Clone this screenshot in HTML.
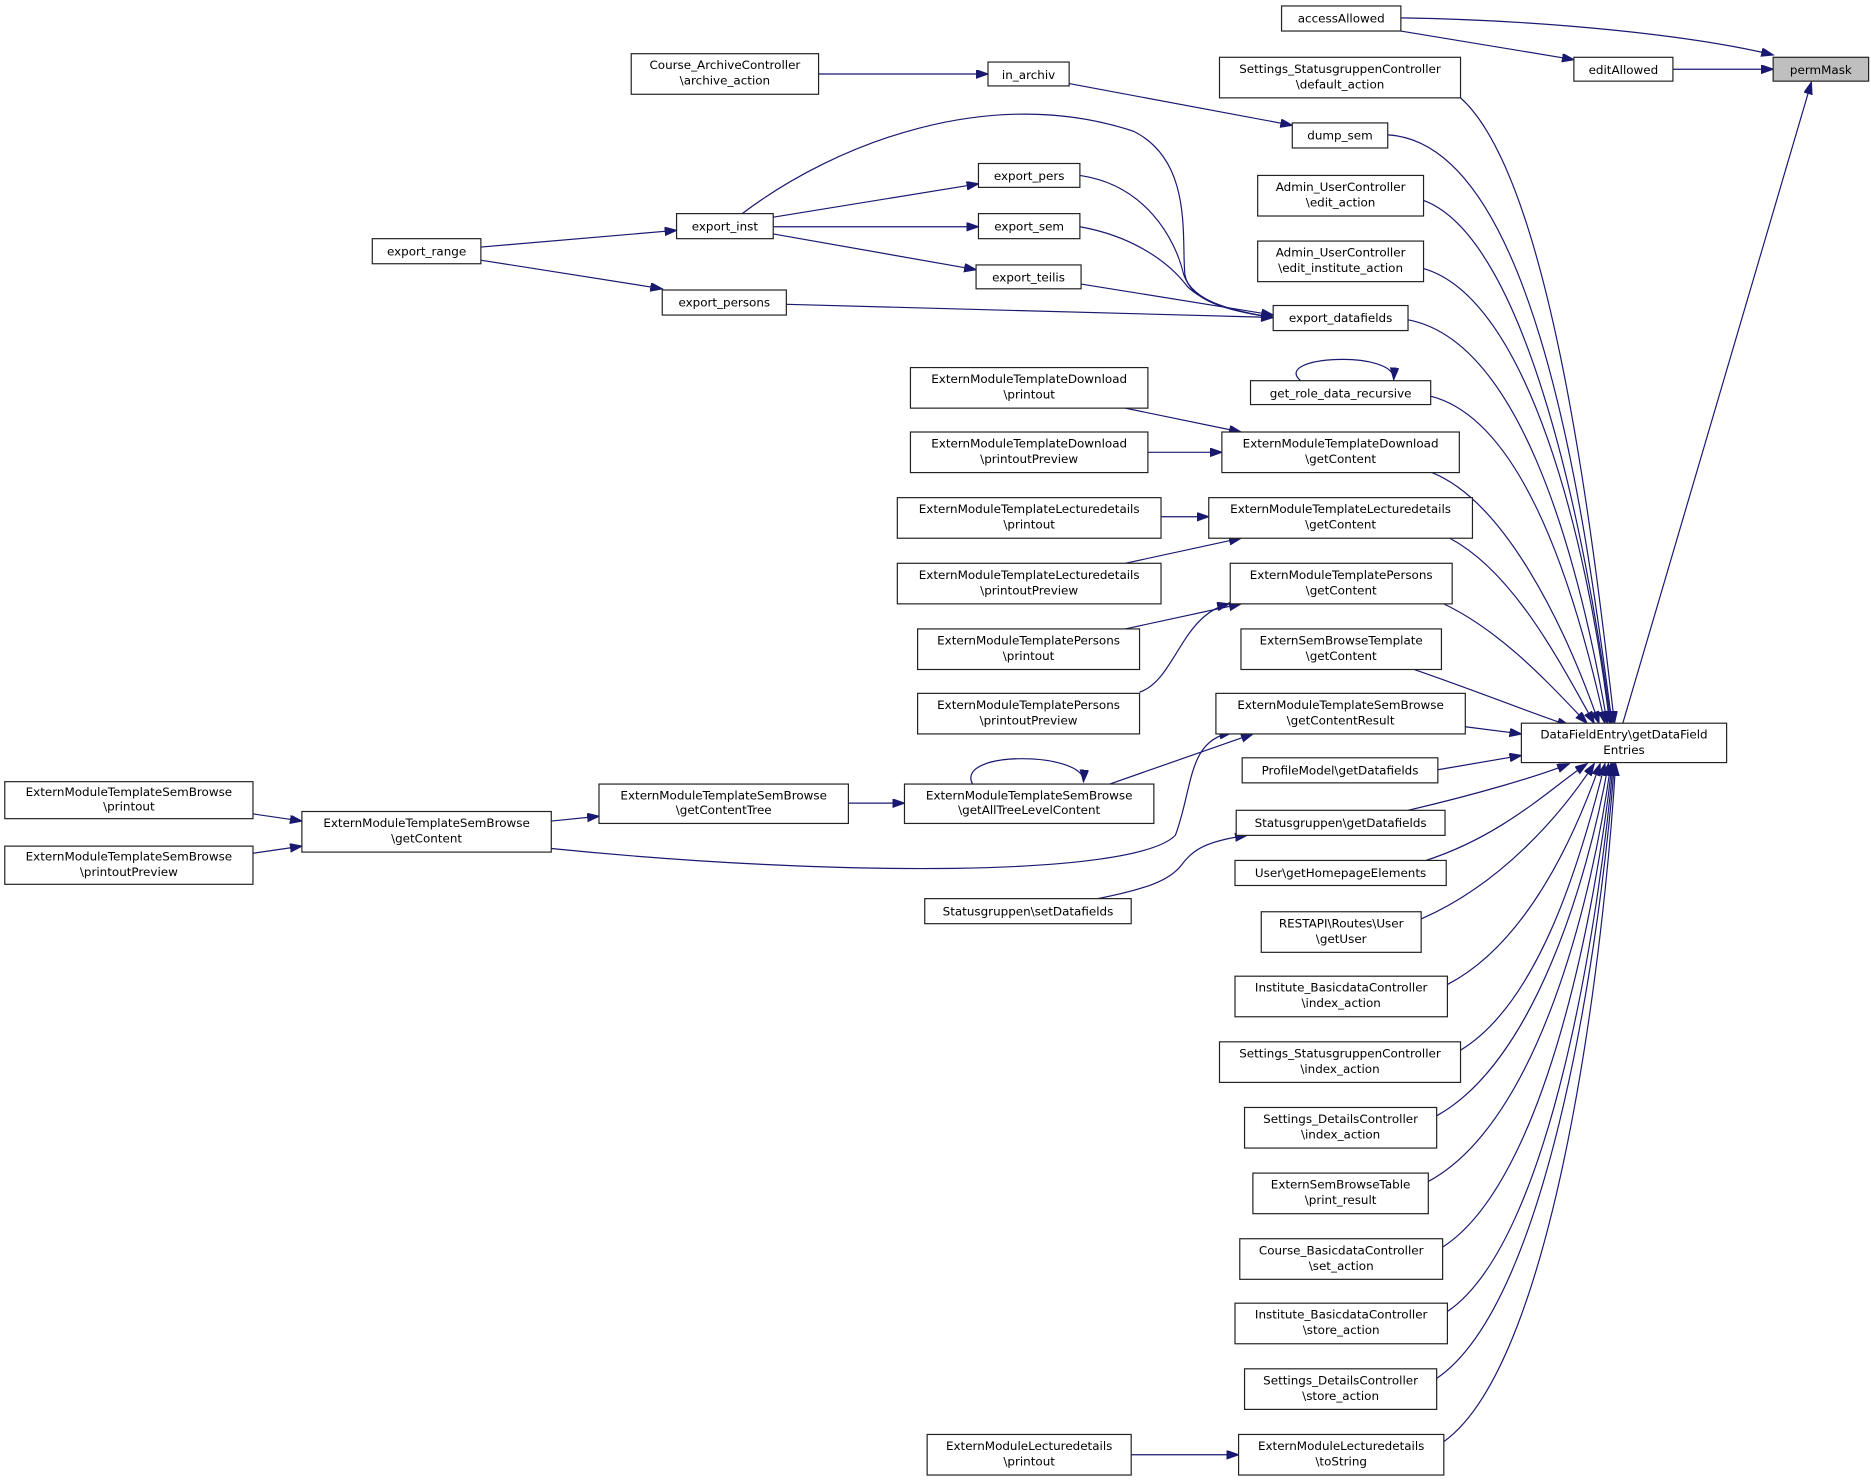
<!DOCTYPE html>
<html><head><meta charset="utf-8"><style>
html,body{margin:0;padding:0;background:#fff;}
svg{display:block;}
text{font-family:"DejaVu Sans","Liberation Sans",sans-serif;font-size:10px;fill:#000;text-anchor:middle;}
rect{fill:#fff;stroke:#222;stroke-width:1;}
path.e{fill:none;stroke:#191970;stroke-width:1;marker-end:url(#a);}
</style></head><body>
<svg width="1871" height="1481" viewBox="0 0 1568 1241" preserveAspectRatio="none" xmlns="http://www.w3.org/2000/svg">
<defs><marker id="a" markerUnits="userSpaceOnUse" markerWidth="11" markerHeight="8" refX="10" refY="3.5" orient="auto"><path d="M0,0 L10,3.5 L0,7 z" fill="#191970" stroke="#191970"/></marker></defs>

<!-- edges -->
<path class="e" d="M1174,15 C1300,17 1420,30 1486,46"/>
<path class="e" d="M1174,26 L1319,50"/>
<path class="e" d="M1402,58 L1486,58"/>
<path class="e" d="M1360,606 L1518,69"/>
<path class="e" d="M686,62 L828,62"/>
<path class="e" d="M896,70 L1083,105"/>
<path class="e" d="M403,207 L567,193"/>
<path class="e" d="M403,218 L555,242"/>
<path class="e" d="M648,182 L820,154"/>
<path class="e" d="M648,190 L820,190"/>
<path class="e" d="M648,196 L818,226"/>
<path class="e" d="M622,179 C700,120 830,70 950,110 C1000,135 990,200 993,230 C997,255 1040,262 1067,266"/>
<path class="e" d="M905,147 C960,155 985,200 992,230 C1000,255 1040,262 1067,266"/>
<path class="e" d="M905,190 C950,198 980,220 995,240 C1010,255 1040,262 1067,266"/>
<path class="e" d="M906,238 L1067,264"/>
<path class="e" d="M659,255 L1067,266"/>
<path class="e" d="M1090,319 C1065,298 1170,293 1168,318"/>
<path class="e" d="M943,342 L1040,362"/>
<path class="e" d="M962,379 L1024,379"/>
<path class="e" d="M973,433 L1013,433"/>
<path class="e" d="M943,472 L1040,451"/>
<path class="e" d="M943,527 L1040,506"/>
<path class="e" d="M955,580 C985,570 990,515 1030,506"/>
<path class="e" d="M930,657 L1050,615"/>
<path class="e" d="M815,657 C800,628 910,630 908,655"/>
<path class="e" d="M711,673 L758,673"/>
<path class="e" d="M462,688 L502,684"/>
<path class="e" d="M212,682 L253,688"/>
<path class="e" d="M212,715 L253,709"/>
<path class="e" d="M462,711 C700,735 950,735 985,700 C1000,660 995,620 1032,614"/>
<path class="e" d="M920,753 C960,745 980,738 990,725 C1000,712 1010,705 1045,700"/>
<path class="e" d="M948,1219 L1038,1219"/>
<!-- to DataFieldEntry (top) -->
<path class="e" d="M1224,82 C1300,150 1335,450 1353,606"/>
<path class="e" d="M1163,113 C1290,120 1330,450 1351,606"/>
<path class="e" d="M1193,168 C1280,200 1330,450 1350,606"/>
<path class="e" d="M1193,225 C1280,250 1330,450 1349,606"/>
<path class="e" d="M1180,268 C1270,285 1320,450 1347,606"/>
<path class="e" d="M1199,332 C1270,350 1315,470 1345,606"/>
<path class="e" d="M1200,396 C1260,420 1310,520 1340,606"/>
<path class="e" d="M1215,451 C1270,480 1310,560 1336,606"/>
<path class="e" d="M1210,506 C1260,530 1300,575 1330,606"/>
<path class="e" d="M1185,561 C1240,580 1290,600 1315,608"/>
<path class="e" d="M1228,609 L1275,615"/>
<path class="e" d="M1205,645 L1275,633"/>
<!-- to DataFieldEntry (bottom) -->
<path class="e" d="M1180,679 C1240,665 1290,650 1315,640"/>
<path class="e" d="M1195,721 C1260,700 1300,660 1330,640"/>
<path class="e" d="M1191,770 C1260,740 1310,680 1336,640"/>
<path class="e" d="M1213,825 C1280,790 1320,700 1341,640"/>
<path class="e" d="M1224,880 C1290,840 1325,720 1345,640"/>
<path class="e" d="M1204,935 C1285,890 1330,740 1348,640"/>
<path class="e" d="M1197,990 C1290,940 1335,750 1350,640"/>
<path class="e" d="M1209,1045 C1295,990 1338,760 1351,640"/>
<path class="e" d="M1213,1099 C1300,1040 1340,770 1352,640"/>
<path class="e" d="M1204,1155 C1300,1090 1342,780 1353,640"/>
<path class="e" d="M1210,1208 C1305,1140 1345,790 1354,640"/>

<!-- nodes -->
<rect x="1074" y="5" width="100" height="21"/><text x="1124" y="19">accessAllowed</text>
<rect x="1319" y="48" width="83" height="20"/><text x="1360.5" y="62">editAllowed</text>
<rect x="1486" y="48" width="80" height="20" style="fill:#bfbfbf"/><text x="1526" y="62">permMask</text>
<rect x="1022" y="48" width="202" height="34"/><text x="1123" y="61">Settings_StatusgruppenController</text><text x="1123" y="74">\default_action</text>
<rect x="529" y="45" width="157" height="34"/><text x="607.5" y="58">Course_ArchiveController</text><text x="607.5" y="71">\archive_action</text>
<rect x="828" y="52" width="68" height="20"/><text x="862" y="66">in_archiv</text>
<rect x="1083" y="103" width="80" height="21"/><text x="1123" y="117">dump_sem</text>
<rect x="820" y="137" width="85" height="20"/><text x="862.5" y="151">export_pers</text>
<rect x="567" y="179" width="81" height="21"/><text x="607.5" y="193">export_inst</text>
<rect x="820" y="179" width="85" height="21"/><text x="862.5" y="193">export_sem</text>
<rect x="312" y="200" width="91" height="21"/><text x="357.5" y="214">export_range</text>
<rect x="818" y="222" width="88" height="20"/><text x="862" y="236">export_teilis</text>
<rect x="555" y="243" width="104" height="21"/><text x="607" y="257">export_persons</text>
<rect x="1054" y="147" width="139" height="34"/><text x="1123.5" y="160">Admin_UserController</text><text x="1123.5" y="173">\edit_action</text>
<rect x="1054" y="202" width="139" height="34"/><text x="1123.5" y="215">Admin_UserController</text><text x="1123.5" y="228">\edit_institute_action</text>
<rect x="1067" y="256" width="113" height="21"/><text x="1123.5" y="270">export_datafields</text>
<rect x="1048" y="319" width="151" height="20"/><text x="1123.5" y="333">get_role_data_recursive</text>
<rect x="763" y="308" width="199" height="34"/><text x="862.5" y="321">ExternModuleTemplateDownload</text><text x="862.5" y="334">\printout</text>
<rect x="763" y="362" width="199" height="34"/><text x="862.5" y="375">ExternModuleTemplateDownload</text><text x="862.5" y="388">\printoutPreview</text>
<rect x="1024" y="362" width="199" height="34"/><text x="1123.5" y="375">ExternModuleTemplateDownload</text><text x="1123.5" y="388">\getContent</text>
<rect x="752" y="417" width="221" height="34"/><text x="862.5" y="430">ExternModuleTemplateLecturedetails</text><text x="862.5" y="443">\printout</text>
<rect x="1013" y="417" width="221" height="34"/><text x="1123.5" y="430">ExternModuleTemplateLecturedetails</text><text x="1123.5" y="443">\getContent</text>
<rect x="752" y="472" width="221" height="34"/><text x="862.5" y="485">ExternModuleTemplateLecturedetails</text><text x="862.5" y="498">\printoutPreview</text>
<rect x="1031" y="472" width="186" height="34"/><text x="1124" y="485">ExternModuleTemplatePersons</text><text x="1124" y="498">\getContent</text>
<rect x="769" y="527" width="186" height="34"/><text x="862" y="540">ExternModuleTemplatePersons</text><text x="862" y="553">\printout</text>
<rect x="1040" y="527" width="168" height="34"/><text x="1124" y="540">ExternSemBrowseTemplate</text><text x="1124" y="553">\getContent</text>
<rect x="769" y="581" width="186" height="34"/><text x="862" y="594">ExternModuleTemplatePersons</text><text x="862" y="607">\printoutPreview</text>
<rect x="1019" y="581" width="209" height="34"/><text x="1123.5" y="594">ExternModuleTemplateSemBrowse</text><text x="1123.5" y="607">\getContentResult</text>
<rect x="1275" y="606" width="172" height="33"/><text x="1361" y="619">DataFieldEntry\getDataField</text><text x="1361" y="632">Entries</text>
<rect x="1041" y="635" width="164" height="21"/><text x="1123" y="649">ProfileModel\getDatafields</text>
<rect x="4" y="655" width="208" height="31"/><text x="108" y="667">ExternModuleTemplateSemBrowse</text><text x="108" y="679">\printout</text>
<rect x="502" y="657" width="209" height="33"/><text x="606.5" y="670">ExternModuleTemplateSemBrowse</text><text x="606.5" y="682">\getContentTree</text>
<rect x="758" y="657" width="209" height="33"/><text x="862.5" y="670">ExternModuleTemplateSemBrowse</text><text x="862.5" y="682">\getAllTreeLevelContent</text>
<rect x="253" y="680" width="209" height="34"/><text x="357.5" y="693">ExternModuleTemplateSemBrowse</text><text x="357.5" y="706">\getContent</text>
<rect x="4" y="709" width="208" height="32"/><text x="108" y="721">ExternModuleTemplateSemBrowse</text><text x="108" y="734">\printoutPreview</text>
<rect x="1036" y="679" width="175" height="21"/><text x="1123.5" y="693">Statusgruppen\getDatafields</text>
<rect x="1035" y="721" width="177" height="21"/><text x="1123.5" y="735">User\getHomepageElements</text>
<rect x="775" y="753" width="173" height="21"/><text x="861.5" y="767">Statusgruppen\setDatafields</text>
<rect x="1057" y="764" width="134" height="34"/><text x="1124" y="777">RESTAPI\Routes\User</text><text x="1124" y="790">\getUser</text>
<rect x="1035" y="818" width="178" height="34"/><text x="1124" y="831">Institute_BasicdataController</text><text x="1124" y="844">\index_action</text>
<rect x="1022" y="873" width="202" height="34"/><text x="1123" y="886">Settings_StatusgruppenController</text><text x="1123" y="899">\index_action</text>
<rect x="1043" y="928" width="161" height="34"/><text x="1123.5" y="941">Settings_DetailsController</text><text x="1123.5" y="954">\index_action</text>
<rect x="1050" y="983" width="147" height="34"/><text x="1123.5" y="996">ExternSemBrowseTable</text><text x="1123.5" y="1009">\print_result</text>
<rect x="1039" y="1038" width="170" height="34"/><text x="1124" y="1051">Course_BasicdataController</text><text x="1124" y="1064">\set_action</text>
<rect x="1035" y="1092" width="178" height="34"/><text x="1124" y="1105">Institute_BasicdataController</text><text x="1124" y="1118">\store_action</text>
<rect x="1043" y="1147" width="161" height="34"/><text x="1123.5" y="1160">Settings_DetailsController</text><text x="1123.5" y="1173">\store_action</text>
<rect x="777" y="1202" width="171" height="34"/><text x="862.5" y="1215">ExternModuleLecturedetails</text><text x="862.5" y="1228">\printout</text>
<rect x="1038" y="1202" width="172" height="34"/><text x="1124" y="1215">ExternModuleLecturedetails</text><text x="1124" y="1228">\toString</text>
</svg>
</body></html>
